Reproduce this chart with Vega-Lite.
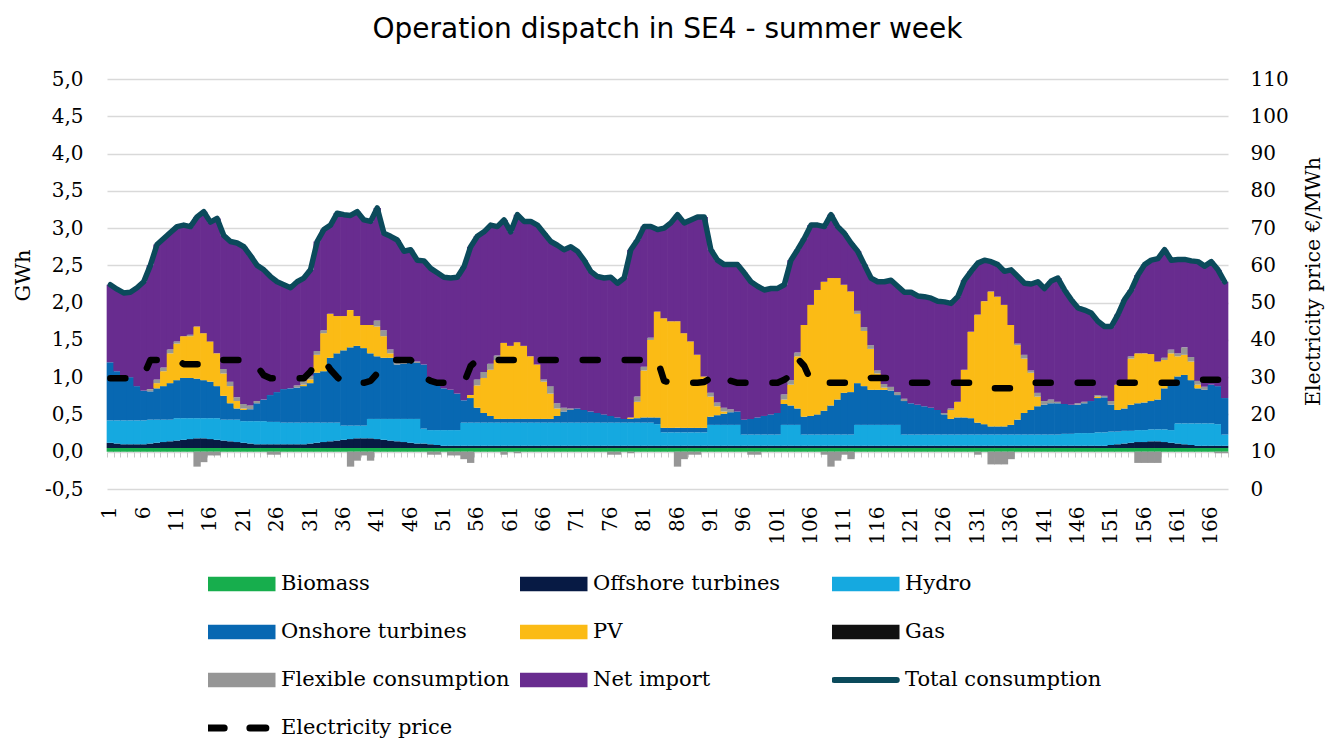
{
"$schema": "https://vega.github.io/schema/vega-lite/v6.json",
"width": 1121, "height": 410,
"autosize": {"type": "none"},
"padding": {"left": 107, "top": 79, "right": 102, "bottom": 251},
"background": "white",
"config": {"view": {"stroke": null}},
"title": {"text": "Operation dispatch in SE4 - summer week", "font": "DejaVu Sans", "fontSize": 28, "fontWeight": "normal", "color": "#000000", "anchor": "middle", "offset": 25},
"data": {"values": [
{"h":1,"bio":0.05,"off":0.07,"hyd":0.30,"on":0.78,"pv":0,"flex":0,"imp":1.04,"T":2.24,"p":29.7},
{"h":2,"bio":0.05,"off":0.06,"hyd":0.31,"on":0.66,"pv":0,"flex":0,"imp":1.10,"T":2.18,"p":29.7},
{"h":3,"bio":0.05,"off":0.05,"hyd":0.32,"on":0.59,"pv":0,"flex":0,"imp":1.12,"T":2.13,"p":29.7},
{"h":4,"bio":0.05,"off":0.05,"hyd":0.32,"on":0.58,"pv":0,"flex":0,"imp":1.14,"T":2.14,"p":29.7},
{"h":5,"bio":0.05,"off":0.05,"hyd":0.32,"on":0.46,"pv":0,"flex":0,"imp":1.32,"T":2.20,"p":29.7},
{"h":6,"bio":0.05,"off":0.05,"hyd":0.32,"on":0.40,"pv":0,"flex":0,"imp":1.46,"T":2.28,"p":30.5},
{"h":7,"bio":0.05,"off":0.06,"hyd":0.32,"on":0.38,"pv":0,"flex":0.03,"imp":1.66,"T":2.50,"p":34.6},
{"h":8,"bio":0.05,"off":0.07,"hyd":0.31,"on":0.42,"pv":0.07,"flex":0.05,"imp":1.81,"T":2.78,"p":34.6},
{"h":9,"bio":0.05,"off":0.08,"hyd":0.30,"on":0.45,"pv":0.20,"flex":0.05,"imp":1.73,"T":2.86,"p":34.6},
{"h":10,"bio":0.05,"off":0.09,"hyd":0.29,"on":0.49,"pv":0.40,"flex":0.05,"imp":1.57,"T":2.94,"p":34.6},
{"h":11,"bio":0.05,"off":0.10,"hyd":0.30,"on":0.51,"pv":0.49,"flex":0.03,"imp":1.54,"T":3.02,"p":34.6},
{"h":12,"bio":0.05,"off":0.11,"hyd":0.29,"on":0.54,"pv":0.56,"flex":0,"imp":1.49,"T":3.04,"p":33.5},
{"h":13,"bio":0.05,"off":0.12,"hyd":0.28,"on":0.54,"pv":0.56,"flex":0.02,"imp":1.45,"T":3.02,"p":33.5},
{"h":14,"bio":0.05,"off":0.13,"hyd":0.27,"on":0.53,"pv":0.70,"flex":-0.20,"imp":1.47,"T":3.15,"p":33.5},
{"h":15,"bio":0.05,"off":0.13,"hyd":0.27,"on":0.51,"pv":0.63,"flex":-0.14,"imp":1.63,"T":3.22,"p":33.5},
{"h":16,"bio":0.05,"off":0.12,"hyd":0.28,"on":0.49,"pv":0.54,"flex":-0.05,"imp":1.60,"T":3.08,"p":33.5},
{"h":17,"bio":0.05,"off":0.11,"hyd":0.29,"on":0.43,"pv":0.44,"flex":-0.05,"imp":1.81,"T":3.13,"p":34.6},
{"h":18,"bio":0.05,"off":0.10,"hyd":0.28,"on":0.32,"pv":0.30,"flex":0.06,"imp":1.79,"T":2.90,"p":34.6},
{"h":19,"bio":0.05,"off":0.09,"hyd":0.29,"on":0.22,"pv":0.23,"flex":0.06,"imp":1.88,"T":2.82,"p":34.6},
{"h":20,"bio":0.05,"off":0.08,"hyd":0.30,"on":0.15,"pv":0.10,"flex":0.05,"imp":2.07,"T":2.80,"p":34.6},
{"h":21,"bio":0.05,"off":0.07,"hyd":0.29,"on":0.15,"pv":0.02,"flex":0.06,"imp":2.11,"T":2.75,"p":34.6},
{"h":22,"bio":0.05,"off":0.06,"hyd":0.30,"on":0.16,"pv":0,"flex":0.05,"imp":2.01,"T":2.63,"p":34.6},
{"h":23,"bio":0.05,"off":0.05,"hyd":0.31,"on":0.24,"pv":0,"flex":0.03,"imp":1.82,"T":2.50,"p":33},
{"h":24,"bio":0.05,"off":0.05,"hyd":0.31,"on":0.29,"pv":0,"flex":0,"imp":1.74,"T":2.44,"p":30.5},
{"h":25,"bio":0.05,"off":0.05,"hyd":0.30,"on":0.36,"pv":0,"flex":-0.04,"imp":1.59,"T":2.35,"p":29.7},
{"h":26,"bio":0.05,"off":0.05,"hyd":0.30,"on":0.40,"pv":0,"flex":-0.04,"imp":1.48,"T":2.28,"p":29.7},
{"h":27,"bio":0.05,"off":0.05,"hyd":0.29,"on":0.45,"pv":0,"flex":0,"imp":1.40,"T":2.24,"p":29.7},
{"h":28,"bio":0.05,"off":0.05,"hyd":0.29,"on":0.46,"pv":0,"flex":0,"imp":1.35,"T":2.20,"p":29.7},
{"h":29,"bio":0.05,"off":0.05,"hyd":0.29,"on":0.47,"pv":0,"flex":0.03,"imp":1.39,"T":2.28,"p":29.7},
{"h":30,"bio":0.05,"off":0.05,"hyd":0.29,"on":0.49,"pv":0.02,"flex":0.05,"imp":1.38,"T":2.33,"p":29.7},
{"h":31,"bio":0.05,"off":0.06,"hyd":0.28,"on":0.53,"pv":0.05,"flex":0.05,"imp":1.42,"T":2.44,"p":31.5},
{"h":32,"bio":0.05,"off":0.07,"hyd":0.27,"on":0.67,"pv":0.24,"flex":0.05,"imp":1.47,"T":2.82,"p":34.6},
{"h":33,"bio":0.05,"off":0.08,"hyd":0.26,"on":0.69,"pv":0.51,"flex":0.04,"imp":1.35,"T":2.98,"p":34.6},
{"h":34,"bio":0.05,"off":0.09,"hyd":0.25,"on":0.87,"pv":0.59,"flex":0,"imp":1.19,"T":3.04,"p":32},
{"h":35,"bio":0.05,"off":0.10,"hyd":0.24,"on":0.93,"pv":0.50,"flex":0,"imp":1.38,"T":3.20,"p":30},
{"h":36,"bio":0.05,"off":0.11,"hyd":0.19,"on":1.01,"pv":0.46,"flex":0,"imp":1.36,"T":3.18,"p":28.5},
{"h":37,"bio":0.05,"off":0.12,"hyd":0.18,"on":1.05,"pv":0.50,"flex":-0.20,"imp":1.27,"T":3.17,"p":28.5},
{"h":38,"bio":0.05,"off":0.13,"hyd":0.17,"on":1.07,"pv":0.40,"flex":-0.12,"imp":1.40,"T":3.22,"p":28.5},
{"h":39,"bio":0.05,"off":0.13,"hyd":0.17,"on":1.04,"pv":0.31,"flex":-0.05,"imp":1.41,"T":3.11,"p":28.5},
{"h":40,"bio":0.05,"off":0.13,"hyd":0.26,"on":0.88,"pv":0.38,"flex":-0.12,"imp":1.39,"T":3.09,"p":29},
{"h":41,"bio":0.05,"off":0.12,"hyd":0.27,"on":0.84,"pv":0.40,"flex":0.08,"imp":1.51,"T":3.27,"p":31},
{"h":42,"bio":0.05,"off":0.11,"hyd":0.28,"on":0.82,"pv":0.29,"flex":0.08,"imp":1.30,"T":2.93,"p":33.5},
{"h":43,"bio":0.05,"off":0.10,"hyd":0.29,"on":0.82,"pv":0.06,"flex":0.05,"imp":1.52,"T":2.89,"p":34.6},
{"h":44,"bio":0.05,"off":0.09,"hyd":0.30,"on":0.73,"pv":0,"flex":0.04,"imp":1.63,"T":2.84,"p":34.6},
{"h":45,"bio":0.05,"off":0.08,"hyd":0.31,"on":0.74,"pv":0,"flex":0.03,"imp":1.48,"T":2.69,"p":34.6},
{"h":46,"bio":0.05,"off":0.07,"hyd":0.32,"on":0.77,"pv":0,"flex":0.03,"imp":1.47,"T":2.71,"p":34.6},
{"h":47,"bio":0.05,"off":0.06,"hyd":0.33,"on":0.75,"pv":0,"flex":0.02,"imp":1.36,"T":2.57,"p":33},
{"h":48,"bio":0.05,"off":0.06,"hyd":0.20,"on":0.86,"pv":0,"flex":0,"imp":1.39,"T":2.56,"p":30},
{"h":49,"bio":0.05,"off":0.05,"hyd":0.19,"on":0.67,"pv":0,"flex":-0.04,"imp":1.50,"T":2.46,"p":29},
{"h":50,"bio":0.05,"off":0.04,"hyd":0.20,"on":0.61,"pv":0,"flex":-0.04,"imp":1.50,"T":2.40,"p":28.5},
{"h":51,"bio":0.05,"off":0.03,"hyd":0.21,"on":0.56,"pv":0,"flex":0,"imp":1.49,"T":2.34,"p":28.5},
{"h":52,"bio":0.05,"off":0.03,"hyd":0.21,"on":0.54,"pv":0,"flex":-0.05,"imp":1.50,"T":2.33,"p":28.5},
{"h":53,"bio":0.05,"off":0.03,"hyd":0.21,"on":0.49,"pv":0,"flex":-0.05,"imp":1.56,"T":2.34,"p":28.5},
{"h":54,"bio":0.05,"off":0.03,"hyd":0.31,"on":0.30,"pv":0,"flex":-0.10,"imp":1.79,"T":2.48,"p":28.5},
{"h":55,"bio":0.05,"off":0.03,"hyd":0.31,"on":0.33,"pv":0.04,"flex":-0.15,"imp":1.99,"T":2.75,"p":33},
{"h":56,"bio":0.05,"off":0.03,"hyd":0.31,"on":0.20,"pv":0.30,"flex":0.08,"imp":1.92,"T":2.89,"p":34.6},
{"h":57,"bio":0.05,"off":0.03,"hyd":0.31,"on":0.13,"pv":0.47,"flex":0.08,"imp":1.88,"T":2.95,"p":34.6},
{"h":58,"bio":0.05,"off":0.03,"hyd":0.31,"on":0.09,"pv":0.62,"flex":0.08,"imp":1.86,"T":3.04,"p":34.6},
{"h":59,"bio":0.05,"off":0.03,"hyd":0.31,"on":0.05,"pv":0.79,"flex":0.06,"imp":1.73,"T":3.02,"p":34.6},
{"h":60,"bio":0.05,"off":0.03,"hyd":0.31,"on":0.05,"pv":1.02,"flex":-0.04,"imp":1.65,"T":3.11,"p":34.6},
{"h":61,"bio":0.05,"off":0.03,"hyd":0.31,"on":0.05,"pv":0.98,"flex":0,"imp":1.53,"T":2.95,"p":34.6},
{"h":62,"bio":0.05,"off":0.03,"hyd":0.31,"on":0.05,"pv":1.03,"flex":-0.02,"imp":1.71,"T":3.18,"p":34.6},
{"h":63,"bio":0.05,"off":0.03,"hyd":0.31,"on":0.05,"pv":0.98,"flex":0,"imp":1.67,"T":3.09,"p":34.6},
{"h":64,"bio":0.05,"off":0.03,"hyd":0.31,"on":0.05,"pv":0.84,"flex":0,"imp":1.81,"T":3.09,"p":34.6},
{"h":65,"bio":0.05,"off":0.03,"hyd":0.31,"on":0.05,"pv":0.73,"flex":0,"imp":1.87,"T":3.04,"p":34.6},
{"h":66,"bio":0.05,"off":0.03,"hyd":0.31,"on":0.05,"pv":0.50,"flex":0.03,"imp":1.96,"T":2.93,"p":34.6},
{"h":67,"bio":0.05,"off":0.03,"hyd":0.31,"on":0.05,"pv":0.34,"flex":0.10,"imp":1.94,"T":2.82,"p":34.6},
{"h":68,"bio":0.05,"off":0.03,"hyd":0.31,"on":0.09,"pv":0.10,"flex":0.07,"imp":2.12,"T":2.77,"p":34.6},
{"h":69,"bio":0.05,"off":0.03,"hyd":0.31,"on":0.15,"pv":0,"flex":0.05,"imp":2.12,"T":2.71,"p":34.6},
{"h":70,"bio":0.05,"off":0.03,"hyd":0.31,"on":0.17,"pv":0,"flex":0.02,"imp":2.17,"T":2.75,"p":34.6},
{"h":71,"bio":0.05,"off":0.03,"hyd":0.31,"on":0.19,"pv":0,"flex":0,"imp":2.11,"T":2.69,"p":34.6},
{"h":72,"bio":0.05,"off":0.03,"hyd":0.31,"on":0.17,"pv":0,"flex":0,"imp":2.01,"T":2.57,"p":34.6},
{"h":73,"bio":0.05,"off":0.03,"hyd":0.31,"on":0.15,"pv":0,"flex":0,"imp":1.88,"T":2.42,"p":34.6},
{"h":74,"bio":0.05,"off":0.03,"hyd":0.31,"on":0.13,"pv":0,"flex":0,"imp":1.83,"T":2.35,"p":34.6},
{"h":75,"bio":0.05,"off":0.03,"hyd":0.31,"on":0.11,"pv":0,"flex":0,"imp":1.83,"T":2.33,"p":34.6},
{"h":76,"bio":0.05,"off":0.03,"hyd":0.31,"on":0.09,"pv":0,"flex":-0.04,"imp":1.86,"T":2.34,"p":34.6},
{"h":77,"bio":0.05,"off":0.03,"hyd":0.31,"on":0.07,"pv":0,"flex":-0.04,"imp":1.80,"T":2.26,"p":34.6},
{"h":78,"bio":0.05,"off":0.03,"hyd":0.31,"on":0.05,"pv":0,"flex":0,"imp":1.89,"T":2.33,"p":34.6},
{"h":79,"bio":0.05,"off":0.03,"hyd":0.31,"on":0.05,"pv":0.02,"flex":-0.02,"imp":2.25,"T":2.71,"p":34.6},
{"h":80,"bio":0.05,"off":0.03,"hyd":0.31,"on":0.06,"pv":0.22,"flex":0.07,"imp":2.10,"T":2.84,"p":34.6},
{"h":81,"bio":0.05,"off":0.03,"hyd":0.31,"on":0.07,"pv":0.63,"flex":0.05,"imp":1.88,"T":3.02,"p":34.6},
{"h":82,"bio":0.05,"off":0.03,"hyd":0.31,"on":0.07,"pv":1.04,"flex":0.03,"imp":1.49,"T":3.02,"p":34.6},
{"h":83,"bio":0.05,"off":0.03,"hyd":0.29,"on":0.09,"pv":1.42,"flex":0,"imp":1.10,"T":2.98,"p":34.6},
{"h":84,"bio":0.05,"off":0.03,"hyd":0.18,"on":0.06,"pv":1.47,"flex":0,"imp":1.21,"T":3.00,"p":29},
{"h":85,"bio":0.05,"off":0.03,"hyd":0.18,"on":0.06,"pv":1.43,"flex":0,"imp":1.32,"T":3.07,"p":28.5},
{"h":86,"bio":0.05,"off":0.03,"hyd":0.18,"on":0.06,"pv":1.43,"flex":-0.20,"imp":1.43,"T":3.18,"p":28.5},
{"h":87,"bio":0.05,"off":0.03,"hyd":0.18,"on":0.06,"pv":1.27,"flex":-0.10,"imp":1.48,"T":3.07,"p":28.5},
{"h":88,"bio":0.05,"off":0.03,"hyd":0.18,"on":0.06,"pv":1.16,"flex":-0.04,"imp":1.63,"T":3.11,"p":28.5},
{"h":89,"bio":0.05,"off":0.03,"hyd":0.18,"on":0.06,"pv":0.98,"flex":-0.04,"imp":1.85,"T":3.15,"p":28.5},
{"h":90,"bio":0.05,"off":0.03,"hyd":0.18,"on":0.06,"pv":0.69,"flex":0,"imp":2.14,"T":3.15,"p":28.7},
{"h":91,"bio":0.05,"off":0.03,"hyd":0.28,"on":0.11,"pv":0.27,"flex":0.05,"imp":1.92,"T":2.71,"p":29.8},
{"h":92,"bio":0.05,"off":0.03,"hyd":0.28,"on":0.13,"pv":0.12,"flex":0.05,"imp":1.91,"T":2.57,"p":31},
{"h":93,"bio":0.05,"off":0.03,"hyd":0.28,"on":0.15,"pv":0.03,"flex":0.05,"imp":1.92,"T":2.51,"p":30},
{"h":94,"bio":0.05,"off":0.03,"hyd":0.28,"on":0.17,"pv":0,"flex":0.04,"imp":1.94,"T":2.51,"p":29},
{"h":95,"bio":0.05,"off":0.03,"hyd":0.28,"on":0.18,"pv":0,"flex":0,"imp":1.97,"T":2.51,"p":28.5},
{"h":96,"bio":0.05,"off":0.03,"hyd":0.15,"on":0.20,"pv":0,"flex":0,"imp":1.97,"T":2.40,"p":28.5},
{"h":97,"bio":0.05,"off":0.03,"hyd":0.15,"on":0.21,"pv":0,"flex":-0.04,"imp":1.84,"T":2.28,"p":28.5},
{"h":98,"bio":0.05,"off":0.03,"hyd":0.15,"on":0.23,"pv":0,"flex":-0.04,"imp":1.76,"T":2.22,"p":28.5},
{"h":99,"bio":0.05,"off":0.03,"hyd":0.15,"on":0.25,"pv":0,"flex":0,"imp":1.69,"T":2.17,"p":28.5},
{"h":100,"bio":0.05,"off":0.03,"hyd":0.15,"on":0.27,"pv":0,"flex":0,"imp":1.69,"T":2.19,"p":28.5},
{"h":101,"bio":0.05,"off":0.03,"hyd":0.15,"on":0.29,"pv":0,"flex":0,"imp":1.67,"T":2.19,"p":28.5},
{"h":102,"bio":0.05,"off":0.03,"hyd":0.28,"on":0.28,"pv":0.06,"flex":0.07,"imp":1.47,"T":2.24,"p":29.3},
{"h":103,"bio":0.05,"off":0.03,"hyd":0.28,"on":0.26,"pv":0.28,"flex":0.06,"imp":1.61,"T":2.57,"p":30.5},
{"h":104,"bio":0.05,"off":0.03,"hyd":0.28,"on":0.22,"pv":0.70,"flex":0.05,"imp":1.38,"T":2.71,"p":35},
{"h":105,"bio":0.05,"off":0.03,"hyd":0.15,"on":0.24,"pv":1.23,"flex":0,"imp":1.16,"T":2.86,"p":33},
{"h":106,"bio":0.05,"off":0.03,"hyd":0.15,"on":0.25,"pv":1.49,"flex":0,"imp":1.07,"T":3.04,"p":29},
{"h":107,"bio":0.05,"off":0.03,"hyd":0.15,"on":0.27,"pv":1.67,"flex":0,"imp":0.87,"T":3.04,"p":28.5},
{"h":108,"bio":0.05,"off":0.03,"hyd":0.15,"on":0.32,"pv":1.73,"flex":-0.04,"imp":0.74,"T":3.02,"p":28.5},
{"h":109,"bio":0.05,"off":0.03,"hyd":0.15,"on":0.39,"pv":1.71,"flex":-0.20,"imp":0.85,"T":3.18,"p":28.5},
{"h":110,"bio":0.05,"off":0.03,"hyd":0.15,"on":0.47,"pv":1.63,"flex":-0.12,"imp":0.69,"T":3.02,"p":28.5},
{"h":111,"bio":0.05,"off":0.03,"hyd":0.15,"on":0.56,"pv":1.45,"flex":-0.04,"imp":0.69,"T":2.93,"p":28.5},
{"h":112,"bio":0.05,"off":0.03,"hyd":0.15,"on":0.57,"pv":1.35,"flex":-0.10,"imp":0.65,"T":2.80,"p":28.5},
{"h":113,"bio":0.05,"off":0.03,"hyd":0.28,"on":0.56,"pv":0.93,"flex":0.04,"imp":0.80,"T":2.69,"p":28.5},
{"h":114,"bio":0.05,"off":0.03,"hyd":0.28,"on":0.52,"pv":0.74,"flex":0.05,"imp":0.84,"T":2.51,"p":29},
{"h":115,"bio":0.05,"off":0.03,"hyd":0.28,"on":0.47,"pv":0.55,"flex":0.05,"imp":0.90,"T":2.33,"p":29.8},
{"h":116,"bio":0.05,"off":0.03,"hyd":0.28,"on":0.47,"pv":0.22,"flex":0.04,"imp":1.19,"T":2.28,"p":29.8},
{"h":117,"bio":0.05,"off":0.03,"hyd":0.28,"on":0.47,"pv":0.03,"flex":0.05,"imp":1.37,"T":2.28,"p":29.8},
{"h":118,"bio":0.05,"off":0.03,"hyd":0.28,"on":0.46,"pv":0,"flex":0.05,"imp":1.43,"T":2.30,"p":29.8},
{"h":119,"bio":0.05,"off":0.03,"hyd":0.28,"on":0.40,"pv":0,"flex":0.04,"imp":1.42,"T":2.22,"p":29},
{"h":120,"bio":0.05,"off":0.03,"hyd":0.15,"on":0.45,"pv":0,"flex":0.03,"imp":1.43,"T":2.14,"p":28.5},
{"h":121,"bio":0.05,"off":0.03,"hyd":0.15,"on":0.42,"pv":0,"flex":0,"imp":1.49,"T":2.14,"p":28.5},
{"h":122,"bio":0.05,"off":0.03,"hyd":0.15,"on":0.40,"pv":0,"flex":0,"imp":1.46,"T":2.09,"p":28.5},
{"h":123,"bio":0.05,"off":0.03,"hyd":0.15,"on":0.38,"pv":0,"flex":0,"imp":1.47,"T":2.08,"p":28.5},
{"h":124,"bio":0.05,"off":0.03,"hyd":0.15,"on":0.36,"pv":0,"flex":0,"imp":1.47,"T":2.06,"p":28.5},
{"h":125,"bio":0.05,"off":0.03,"hyd":0.15,"on":0.33,"pv":0,"flex":0,"imp":1.46,"T":2.02,"p":28.5},
{"h":126,"bio":0.05,"off":0.03,"hyd":0.15,"on":0.27,"pv":0,"flex":0.02,"imp":1.49,"T":2.01,"p":28.5},
{"h":127,"bio":0.05,"off":0.03,"hyd":0.15,"on":0.21,"pv":0.12,"flex":0.02,"imp":1.41,"T":1.99,"p":28.5},
{"h":128,"bio":0.05,"off":0.03,"hyd":0.15,"on":0.23,"pv":0.21,"flex":0,"imp":1.41,"T":2.08,"p":28.5},
{"h":129,"bio":0.05,"off":0.03,"hyd":0.15,"on":0.23,"pv":0.64,"flex":0,"imp":1.20,"T":2.30,"p":28.5},
{"h":130,"bio":0.05,"off":0.03,"hyd":0.15,"on":0.22,"pv":1.16,"flex":0,"imp":0.81,"T":2.42,"p":28.5},
{"h":131,"bio":0.05,"off":0.03,"hyd":0.15,"on":0.16,"pv":1.45,"flex":-0.04,"imp":0.69,"T":2.53,"p":28.5},
{"h":132,"bio":0.05,"off":0.03,"hyd":0.15,"on":0.14,"pv":1.65,"flex":0,"imp":0.55,"T":2.57,"p":27.7},
{"h":133,"bio":0.05,"off":0.03,"hyd":0.15,"on":0.11,"pv":1.81,"flex":-0.17,"imp":0.40,"T":2.55,"p":27},
{"h":134,"bio":0.05,"off":0.03,"hyd":0.15,"on":0.11,"pv":1.74,"flex":-0.17,"imp":0.43,"T":2.51,"p":27},
{"h":135,"bio":0.05,"off":0.03,"hyd":0.15,"on":0.11,"pv":1.63,"flex":-0.17,"imp":0.45,"T":2.42,"p":27},
{"h":136,"bio":0.05,"off":0.03,"hyd":0.15,"on":0.13,"pv":1.34,"flex":-0.10,"imp":0.74,"T":2.44,"p":27},
{"h":137,"bio":0.05,"off":0.03,"hyd":0.15,"on":0.20,"pv":1.00,"flex":0.02,"imp":0.90,"T":2.35,"p":27},
{"h":138,"bio":0.05,"off":0.03,"hyd":0.15,"on":0.29,"pv":0.73,"flex":0.05,"imp":0.96,"T":2.26,"p":28},
{"h":139,"bio":0.05,"off":0.03,"hyd":0.15,"on":0.33,"pv":0.50,"flex":0.03,"imp":1.16,"T":2.25,"p":28.5},
{"h":140,"bio":0.05,"off":0.03,"hyd":0.15,"on":0.38,"pv":0.13,"flex":0.05,"imp":1.49,"T":2.28,"p":28.5},
{"h":141,"bio":0.05,"off":0.03,"hyd":0.15,"on":0.40,"pv":0,"flex":0.05,"imp":1.51,"T":2.19,"p":28.5},
{"h":142,"bio":0.05,"off":0.03,"hyd":0.15,"on":0.42,"pv":0,"flex":0.05,"imp":1.59,"T":2.29,"p":28.5},
{"h":143,"bio":0.05,"off":0.03,"hyd":0.15,"on":0.42,"pv":0,"flex":0.02,"imp":1.66,"T":2.33,"p":28.5},
{"h":144,"bio":0.05,"off":0.03,"hyd":0.16,"on":0.40,"pv":0,"flex":0,"imp":1.53,"T":2.17,"p":28.5},
{"h":145,"bio":0.05,"off":0.03,"hyd":0.16,"on":0.39,"pv":0,"flex":0,"imp":1.41,"T":2.04,"p":28.5},
{"h":146,"bio":0.05,"off":0.03,"hyd":0.17,"on":0.38,"pv":0,"flex":0.02,"imp":1.28,"T":1.93,"p":28.5},
{"h":147,"bio":0.05,"off":0.03,"hyd":0.17,"on":0.40,"pv":0,"flex":0.02,"imp":1.23,"T":1.90,"p":28.5},
{"h":148,"bio":0.05,"off":0.03,"hyd":0.17,"on":0.43,"pv":0,"flex":0,"imp":1.18,"T":1.86,"p":28.5},
{"h":149,"bio":0.05,"off":0.03,"hyd":0.18,"on":0.46,"pv":0.02,"flex":0.02,"imp":0.99,"T":1.75,"p":28.5},
{"h":150,"bio":0.05,"off":0.03,"hyd":0.18,"on":0.47,"pv":0,"flex":0.02,"imp":0.93,"T":1.68,"p":28.5},
{"h":151,"bio":0.05,"off":0.04,"hyd":0.18,"on":0.36,"pv":0,"flex":0.05,"imp":1.00,"T":1.68,"p":28.5},
{"h":152,"bio":0.05,"off":0.05,"hyd":0.17,"on":0.29,"pv":0.34,"flex":0,"imp":0.94,"T":1.84,"p":28.5},
{"h":153,"bio":0.05,"off":0.06,"hyd":0.17,"on":0.30,"pv":0.34,"flex":0.02,"imp":1.10,"T":2.04,"p":28.5},
{"h":154,"bio":0.05,"off":0.07,"hyd":0.16,"on":0.35,"pv":0.62,"flex":0.03,"imp":0.89,"T":2.17,"p":28.5},
{"h":155,"bio":0.05,"off":0.08,"hyd":0.16,"on":0.36,"pv":0.67,"flex":-0.15,"imp":1.05,"T":2.37,"p":28.5},
{"h":156,"bio":0.05,"off":0.08,"hyd":0.16,"on":0.37,"pv":0.66,"flex":-0.15,"imp":1.19,"T":2.51,"p":28.5},
{"h":157,"bio":0.05,"off":0.09,"hyd":0.16,"on":0.38,"pv":0.63,"flex":-0.15,"imp":1.26,"T":2.57,"p":28.5},
{"h":158,"bio":0.05,"off":0.09,"hyd":0.16,"on":0.40,"pv":0.51,"flex":-0.15,"imp":1.38,"T":2.59,"p":28.5},
{"h":159,"bio":0.05,"off":0.08,"hyd":0.17,"on":0.55,"pv":0.38,"flex":0.03,"imp":1.45,"T":2.71,"p":28.5},
{"h":160,"bio":0.05,"off":0.07,"hyd":0.17,"on":0.67,"pv":0.36,"flex":0.05,"imp":1.20,"T":2.57,"p":28.5},
{"h":161,"bio":0.05,"off":0.06,"hyd":0.27,"on":0.63,"pv":0.27,"flex":0.04,"imp":1.26,"T":2.58,"p":28.5},
{"h":162,"bio":0.05,"off":0.05,"hyd":0.28,"on":0.65,"pv":0.27,"flex":0.10,"imp":1.18,"T":2.58,"p":28.5},
{"h":163,"bio":0.05,"off":0.04,"hyd":0.29,"on":0.58,"pv":0.25,"flex":0.06,"imp":1.29,"T":2.56,"p":29.3},
{"h":164,"bio":0.05,"off":0.03,"hyd":0.30,"on":0.47,"pv":0.05,"flex":0.05,"imp":1.60,"T":2.55,"p":29.3},
{"h":165,"bio":0.05,"off":0.03,"hyd":0.30,"on":0.45,"pv":0,"flex":0.04,"imp":1.62,"T":2.49,"p":29.3},
{"h":166,"bio":0.05,"off":0.03,"hyd":0.30,"on":0.52,"pv":0,"flex":0,"imp":1.65,"T":2.55,"p":29.3},
{"h":167,"bio":0.05,"off":0.03,"hyd":0.29,"on":0.51,"pv":0,"flex":-0.02,"imp":1.56,"T":2.44,"p":29.3},
{"h":168,"bio":0.05,"off":0.03,"hyd":0.15,"on":0.49,"pv":0,"flex":-0.02,"imp":1.56,"T":2.28,"p":29.3}
]},
"layer": [
{
"transform": [
{"fold": ["bio","off","hyd","on","pv","flex","imp"], "as": ["key","val"]},
{"lookup": "key", "from": {"data": {"values": [
{"key":"bio","series":"Biomass","ord":1},
{"key":"off","series":"Offshore turbines","ord":2},
{"key":"hyd","series":"Hydro","ord":3},
{"key":"on","series":"Onshore turbines","ord":4},
{"key":"pv","series":"PV","ord":5},
{"key":"flex","series":"Flexible consumption","ord":7},
{"key":"imp","series":"Net import","ord":8}
]}, "key": "key", "fields": ["series","ord"]}}
],
"mark": {"type": "bar", "width": {"band": 1.1}},
"encoding": {
"x": {"field": "h", "type": "ordinal", "scale": {"paddingInner": 0, "paddingOuter": 0},
"axis": {"values": [1,6,11,16,21,26,31,36,41,46,51,56,61,66,71,76,81,86,91,96,101,106,111,116,121,126,131,136,141,146,151,156,161,166], "labelAngle": 270, "labelFont": "DejaVu Serif", "labelFontSize": 20, "labelColor": "#000000", "labelPadding": 17, "labelOverlap": false, "ticks": false, "domain": false, "grid": false, "title": null}},
"y": {"field": "val", "type": "quantitative", "stack": "zero", "scale": {"domain": [-0.5, 5], "nice": false, "zero": false},
"axis": {"values": [-0.5,0,0.5,1,1.5,2,2.5,3,3.5,4,4.5,5], "labelExpr": "replace(replace(format(datum.value, '.1f'), '.', ','), '\u2212', '-')", "grid": true, "gridColor": "#d9d9d9", "gridWidth": 1.3, "domain": false, "ticks": false, "labelFont": "DejaVu Serif", "labelFontSize": 20, "labelColor": "#000000", "labelPadding": 24, "title": "GWh", "titleFont": "DejaVu Serif", "titleFontSize": 21, "titleFontWeight": "normal", "titleColor": "#000000", "titleAngle": 270, "titleX": -84, "titleY": 196, "titleAlign": "center", "titleBaseline": "middle"}},
"color": {"field": "series", "type": "nominal",
"scale": {"domain": ["Biomass","Offshore turbines","Hydro","Onshore turbines","PV","Gas","Flexible consumption","Net import","Total consumption","Electricity price"],
"range": ["#17ae4d","#071a44","#15a9e0","#0868b2","#fbbb15","#111111","#969696","#682c8f","#0b4a5b","#000000"]},
"legend": {"orient": "none", "legendX": 101, "legendY": 494, "direction": "horizontal", "columns": 3, "gridAlign": "all", "columnPadding": 10, "rowPadding": 26, "padding": 0, "title": null, "clipHeight": 22, "symbolSize": 4624, "symbolOffset": 23, "labelOffset": 29, "labelFont": "DejaVu Serif", "labelFontSize": 21, "labelColor": "#000000", "labelLimit": 0,
"encode": {"symbols": {"update": {
"shape": {"signal": "datum.value === 'Total consumption' ? 'M-0.92,0H0.92' : datum.value === 'Electricity price' ? 'M-0.98,0H0.98' : 'M-1,-0.216H1V0.216H-1Z'"},
"size": {"value": 4624},
"fill": {"signal": "(datum.value === 'Total consumption' || datum.value === 'Electricity price') ? 'transparent' : scale('color', datum.value)"},
"stroke": {"signal": "(datum.value === 'Total consumption' || datum.value === 'Electricity price') ? scale('color', datum.value) : 'transparent'"},
"strokeWidth": {"signal": "datum.value === 'Total consumption' ? 6 : datum.value === 'Electricity price' ? 7 : 0"},
"strokeDash": {"signal": "datum.value === 'Electricity price' ? [16, 25.7] : [1, 0]"},
"strokeCap": {"value": "round"},
"opacity": {"value": 1}
}}}}},
"order": {"field": "ord", "type": "quantitative"}
}
},
{
"mark": {"type": "line", "strokeWidth": 5.5, "strokeJoin": "round", "strokeCap": "round"},
"encoding": {
"x": {"field": "h", "type": "ordinal", "axis": {"orient": "bottom", "offset": -37, "labels": false, "domain": false, "grid": false, "ticks": true, "tickColor": "#c8c8c8", "tickSize": 5, "tickBand": "extent", "title": null}},
"y": {"field": "T", "type": "quantitative", "scale": {"domain": [-0.5, 5], "nice": false, "zero": false}, "axis": null},
"color": {"datum": "Total consumption"}
}
},
{
"mark": {"type": "line", "strokeWidth": 6.5, "strokeDash": [15, 27], "strokeCap": "round", "strokeJoin": "round"},
"encoding": {
"x": {"field": "h", "type": "ordinal", "axis": null},
"y": {"field": "p", "type": "quantitative", "scale": {"domain": [0, 110], "nice": false, "zero": false},
"axis": {"orient": "right", "values": [0,10,20,30,40,50,60,70,80,90,100,110], "grid": false, "domain": false, "ticks": false, "labelFont": "DejaVu Serif", "labelFontSize": 20, "labelColor": "#000000", "labelPadding": 22, "title": "Electricity price €/MWh", "titleFont": "DejaVu Serif", "titleFontSize": 20.5, "titleFontWeight": "normal", "titleColor": "#000000", "titleAngle": 270, "titleX": 85, "titleY": 202, "titleAlign": "center", "titleBaseline": "middle"}},
"color": {"datum": "Electricity price"}
}
}
],
"resolve": {"scale": {"y": "independent"}, "axis": {"x": "independent"}}
}
